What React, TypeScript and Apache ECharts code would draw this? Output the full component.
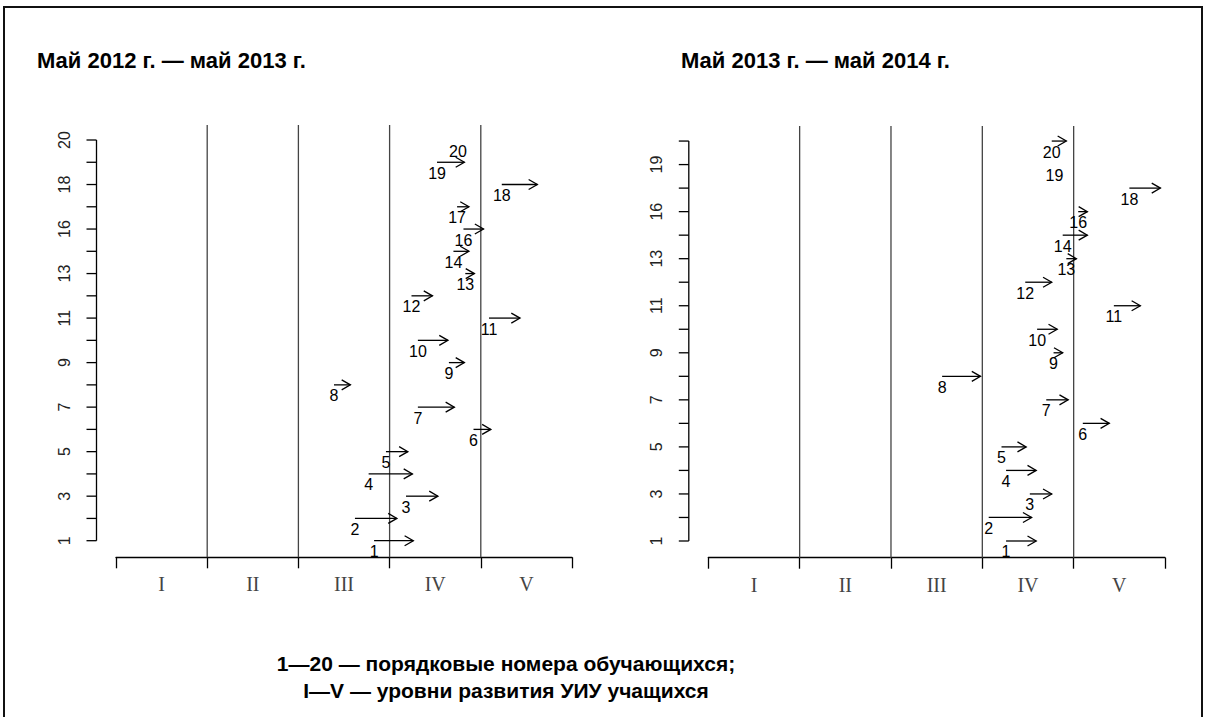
import React, { useEffect, useRef } from "react";
import * as echarts from "echarts";

const levels = ["I", "II", "III", "IV", "V"];

const titleA = "Май 2012 г. — май 2013 г.";
const titleB = "Май 2013 г. — май 2014 г.";
const footer1 = "1—20 — порядковые номера обучающихся;";
const footer2 = "I—V — уровни развития УИУ учащихся";

// Panel A: May 2012 – May 2013
const studentsA = [1, 2, 3, 4, 5, 6, 7, 8, 9, 10, 11, 12, 13, 14, 16, 17, 18, 19, 20];
const fromA = [2.83, 2.62, 3.18, 2.77, 2.96, 3.92, 3.31, 2.39, 3.65, 3.31, 4.09, 3.24, 3.83, 3.7, 3.81, 3.74, 4.23, 3.52, 3.75];
const toA = [3.26, 3.08, 3.53, 3.25, 3.2, 4.11, 3.71, 2.57, 3.82, 3.64, 4.43, 3.47, 3.93, 3.87, 4.03, 3.87, 4.62, 3.82, 3.75];
const tickPosA = [1, 3, 5, 7, 9, 11, 13, 15, 17, 19];
const tickLabelsA = ["1", "3", "5", "7", "9", "11", "13", "16", "18", "20"];

// Panel B: May 2013 – May 2014
const studentsB = [1, 2, 3, 4, 5, 6, 7, 8, 9, 10, 11, 12, 13, 14, 16, 18, 19, 20];
const fromB = [3.26, 3.07, 3.52, 3.26, 3.21, 4.1, 3.7, 2.56, 3.78, 3.6, 4.44, 3.47, 3.92, 3.88, 4.05, 4.61, 3.79, 3.76];
const toB = [3.59, 3.54, 3.76, 3.59, 3.48, 4.39, 3.94, 2.98, 3.88, 3.82, 4.73, 3.76, 4.03, 4.15, 4.15, 4.95, 3.79, 3.92];
const tickPosB = [1, 3, 5, 7, 9, 11, 13, 15, 17];
const tickLabelsB = ["1", "3", "5", "7", "9", "11", "13", "16", "19"];

const boundaries = [1, 2, 3, 4];
const xTicks = [0, 1, 2, 3, 4, 5];
const xLabelPos = [0.5, 1.5, 2.5, 3.5, 4.5];

const Y_OFFSET = 19.5;
const Y_TICK = 10;

function makeX(gridIndex: number) {
  return {
    type: "value",
    gridIndex,
    min: 0,
    max: 5,
    axisLine: { show: true, lineStyle: { color: "#000", width: 1.3 } },
    axisTick: { show: true, customValues: xTicks, length: 11, lineStyle: { color: "#000", width: 1.3 } },
    axisLabel: {
      show: true,
      customValues: xLabelPos,
      formatter: (v: number) => levels[Math.round(v - 0.5)] || "",
      margin: 17,
      fontFamily: "'Liberation Serif', 'DejaVu Serif', serif",
      fontSize: 20,
      color: "#444",
    },
    splitLine: { show: false },
  };
}

function makeY(gridIndex: number, min: number, max: number, pos: number[], labels: string[]) {
  return {
    type: "value",
    gridIndex,
    min,
    max,
    offset: Y_OFFSET,
    axisLine: { show: false },
    axisTick: { show: false },
    axisLabel: {
      show: true,
      customValues: pos,
      formatter: (v: number) => labels[pos.indexOf(Math.round(v))] || "",
      rotate: 90,
      margin: 24,
      fontFamily: "'Liberation Sans', Arial, sans-serif",
      fontSize: 16,
      color: "#222",
    },
    splitLine: { show: false },
  };
}

function arrowSeries(idx: number, students: number[], from: number[], to: number[]) {
  return {
    type: "custom",
    xAxisIndex: idx,
    yAxisIndex: idx,
    z: 10,
    data: students.map((s, i) => [from[i], to[i], i + 1, s]),
    encode: { x: [0, 1], y: 2 },
    renderItem: (_p: any, api: any) => {
      const x0 = api.value(0);
      const x1 = api.value(1);
      const y = api.value(2);
      const lab = api.value(3);
      const p0 = api.coord([x0, y]);
      const p1 = api.coord([x1, y]);
      const children: any[] = [];
      if (p1[0] - p0[0] > 0.5) {
        children.push({
          type: "line",
          shape: { x1: p0[0], y1: p0[1], x2: p1[0], y2: p1[1] },
          style: { stroke: "#000", lineWidth: 1.3 },
        });
        children.push({
          type: "polyline",
          shape: { points: [[p1[0] - 8.7, p1[1] - 5], [p1[0], p1[1]], [p1[0] - 8.7, p1[1] + 5]] },
          style: { stroke: "#000", lineWidth: 1.3, fill: "none" },
        });
      }
      children.push({
        type: "text",
        x: p0[0],
        y: p0[1] + 11,
        style: {
          text: String(lab),
          fill: "#000",
          font: "16px 'Liberation Sans', Arial, sans-serif",
          align: "center",
          verticalAlign: "middle",
        },
      });
      return { type: "group", children };
    },
  };
}

function decorSeries(idx: number, yMin: number, yMax: number, n: number) {
  return [
    {
      type: "custom",
      xAxisIndex: idx,
      yAxisIndex: idx,
      z: 5,
      data: boundaries.map((b) => [b]),
      encode: { x: 0 },
      renderItem: (_p: any, api: any) => {
        const v = api.value(0);
        const a = api.coord([v, yMin]);
        const b = api.coord([v, yMax]);
        return {
          type: "line",
          shape: { x1: a[0], y1: a[1], x2: b[0], y2: b[1] },
          style: { stroke: "#444", lineWidth: 1.3 },
        };
      },
    },
    {
      type: "custom",
      xAxisIndex: idx,
      yAxisIndex: idx,
      z: 5,
      data: [[0, 1, n]],
      encode: { x: 0, y: [1, 2] },
      renderItem: (_p: any, api: any) => {
        const x0 = api.value(0);
        const lo = api.value(1);
        const hi = api.value(2);
        const a = api.coord([x0, lo]);
        const b = api.coord([x0, hi]);
        const ax = a[0] - Y_OFFSET;
        const children: any[] = [
          {
            type: "line",
            shape: { x1: ax, y1: a[1], x2: ax, y2: b[1] },
            style: { stroke: "#000", lineWidth: 1.3 },
          },
        ];
        for (let i = lo; i <= hi; i++) {
          const p = api.coord([x0, i]);
          children.push({
            type: "line",
            shape: { x1: ax - Y_TICK, y1: p[1], x2: ax, y2: p[1] },
            style: { stroke: "#000", lineWidth: 1.3 },
          });
        }
        return { type: "group", children };
      },
    },
  ];
}

export default function App() {
  const ref = useRef<HTMLDivElement>(null);
  useEffect(() => {
    document.body.style.margin = "0";
    if (!ref.current) return;
    const chart = echarts.init(ref.current, null, { renderer: "svg" });
    const yMinA = 0.254, yMaxA = 19.674;
    const yMinB = 0.29, yMaxB = 18.64;
    const boldFont = "bold 22px 'Liberation Sans', Arial, sans-serif";
    const footFont = "bold 21px 'Liberation Sans', Arial, sans-serif";
    chart.setOption({
      animation: false,
      backgroundColor: "#fff",
      grid: [
        { left: 116, top: 125, width: 456, height: 432.3 },
        { left: 708.3, top: 126, width: 456.7, height: 431.7 },
      ],
      xAxis: [makeX(0), makeX(1)],
      yAxis: [
        makeY(0, yMinA, yMaxA, tickPosA, tickLabelsA),
        makeY(1, yMinB, yMaxB, tickPosB, tickLabelsB),
      ],
      series: [
        ...decorSeries(0, yMinA, yMaxA, studentsA.length),
        ...decorSeries(1, yMinB, yMaxB, studentsB.length),
        arrowSeries(0, studentsA, fromA, toA),
        arrowSeries(1, studentsB, fromB, toB),
      ],
      graphic: [
        {
          type: "polyline",
          shape: { points: [[4, 717], [4, 7], [1202, 7], [1202, 717]] },
          style: { stroke: "#111", lineWidth: 2, fill: "none" },
        },
        {
          type: "text",
          x: 37,
          y: 60,
          style: { text: titleA, font: boldFont, fill: "#000", align: "left", verticalAlign: "middle" },
        },
        {
          type: "text",
          x: 681,
          y: 60,
          style: { text: titleB, font: boldFont, fill: "#000", align: "left", verticalAlign: "middle" },
        },
        {
          type: "text",
          x: 506,
          y: 663,
          style: { text: footer1, font: footFont, fill: "#000", align: "center", verticalAlign: "middle" },
        },
        {
          type: "text",
          x: 506,
          y: 690,
          style: { text: footer2, font: footFont, fill: "#000", align: "center", verticalAlign: "middle" },
        },
      ],
    });
    return () => chart.dispose();
  }, []);
  return <div ref={ref} style={{ width: 1205, height: 717 }} />;
}
